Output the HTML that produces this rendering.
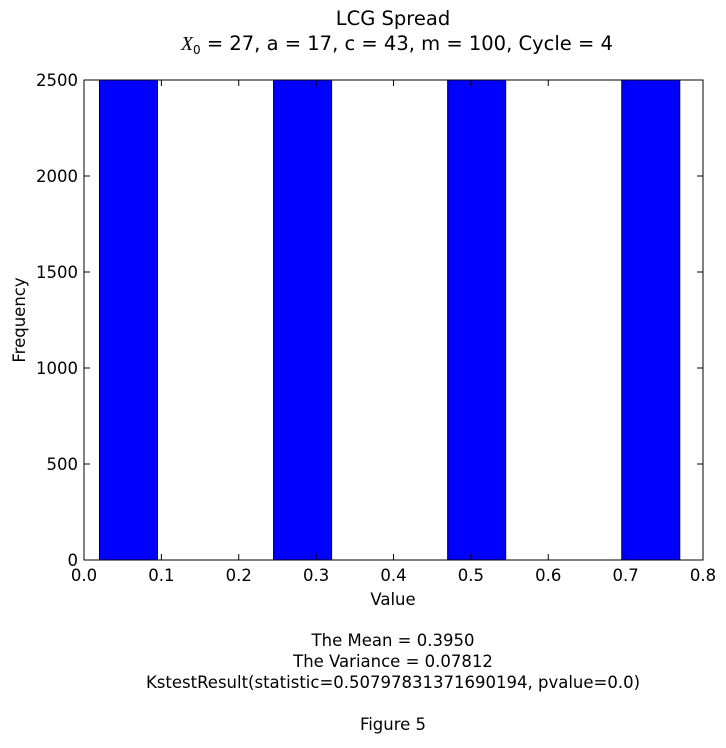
<!DOCTYPE html>
<html><head><meta charset="utf-8"><style>
body{margin:0;background:#fff;width:726px;height:743px;overflow:hidden}
svg text{font-family:"DejaVu Sans","Liberation Sans",sans-serif;fill:#000}
</style></head><body>
<svg id="chart" width="726" height="743">
<text x="393" y="25" font-size="19.5" text-anchor="middle">LCG Spread</text>
<text x="397" y="50" font-size="19.5" text-anchor="middle"><tspan font-family="Liberation Serif" font-style="italic">X</tspan><tspan font-size="12" dy="4">0</tspan><tspan dy="-4"> = 27, a = 17, c = 43, m = 100, Cycle = 4</tspan></text>
<g id="bars"></g>
<rect x="84" y="80" width="619" height="480" fill="none" stroke="#000" stroke-width="1"/>
<g id="ticks"></g>
<text x="393" y="605" font-size="16.5" text-anchor="middle">Value</text>
<text transform="translate(25,320) rotate(-90)" font-size="16.5" text-anchor="middle">Frequency</text>
<text x="393" y="646" font-size="16.5" text-anchor="middle">The Mean = 0.3950</text>
<text x="393" y="667" font-size="16.5" text-anchor="middle">The Variance = 0.07812</text>
<text x="393" y="688" font-size="16.5" text-anchor="middle">KstestResult(statistic=0.50797831371690194, pvalue=0.0)</text>
<text x="393" y="730" font-size="16.5" text-anchor="middle">Figure 5</text>
</svg>
<script>
const binStarts=[0.02,0.245,0.47,0.695];
const binWidth=0.075;
const counts=[2500,2500,2500,2500];
const xTicks=[0,0.1,0.2,0.3,0.4,0.5,0.6,0.7,0.8];
const yTicks=[0,500,1000,1500,2000,2500];
const NS="http://www.w3.org/2000/svg";
const X=v=>84+v/0.8*619, Y=v=>560-v/2500*480;
const bars=document.getElementById('bars'), ticks=document.getElementById('ticks');
binStarts.forEach((b,i)=>{
 const r=document.createElementNS(NS,'rect');
 r.setAttribute('x',X(b));r.setAttribute('width',X(b+binWidth)-X(b));
 r.setAttribute('y',Y(counts[i]));r.setAttribute('height',Y(0)-Y(counts[i]));
 r.setAttribute('fill','#0000ff');r.setAttribute('stroke','#000');r.setAttribute('stroke-width','1');
 
 
 bars.appendChild(r);
});
function line(x1,y1,x2,y2){const l=document.createElementNS(NS,'line');l.setAttribute('x1',x1);l.setAttribute('y1',y1);l.setAttribute('x2',x2);l.setAttribute('y2',y2);l.setAttribute('stroke','#000');ticks.appendChild(l);}
function text(x,y,s,a){const t=document.createElementNS(NS,'text');t.setAttribute('x',x);t.setAttribute('y',y);t.setAttribute('font-size','16.5');t.setAttribute('text-anchor',a);t.textContent=s;
 
 
 ticks.appendChild(t);}
xTicks.forEach(v=>{const x=X(v);line(x,560,x,554);line(x,80,x,86);text(x,581,v.toFixed(1),'middle');});
yTicks.forEach(v=>{const y=Y(v);line(84,y,90,y);line(703,y,697,y);text(78,y+6,String(v),'end');});
</script>
</body></html>
